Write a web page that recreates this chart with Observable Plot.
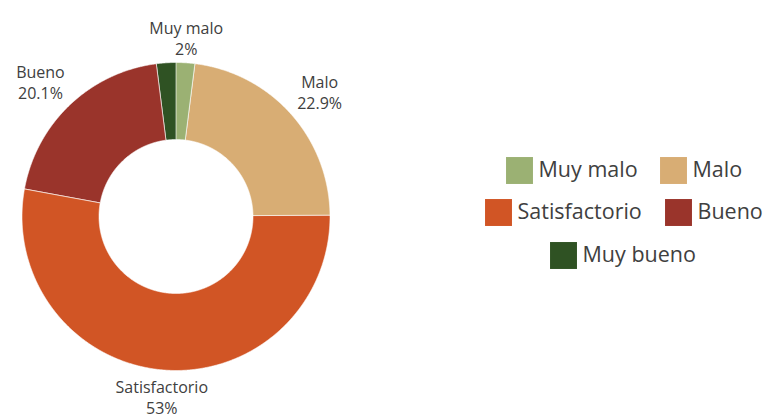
<!DOCTYPE html>
<html>
<head>
<meta charset="utf-8">
<script src="https://cdn.jsdelivr.net/npm/d3@7"></script>
<script src="https://cdn.jsdelivr.net/npm/@observablehq/plot@0.6"></script>
<style>
  html, body { margin: 0; padding: 0; background: #ffffff; }
  #chart { width: 766px; height: 416px; }
</style>
</head>
<body>
<div id="chart"></div>
<script>
// ---- data ----
const categories = ["Muy malo", "Malo", "Satisfactorio", "Bueno", "Muy bueno"];
const values = [2, 22.9, 53, 20.1, 2];
const showLabel = [true, true, true, true, false];
const colors = ["#9bb173", "#d8ad74", "#d15525", "#9a342b", "#2f5223"];

// ---- layout ----
const W = 766, H = 416;
const CX = 175.5, CY = 216, R = 154;
const INNER = 0.5;          // inner radius relative to outer
const LABEL_GAP = 162 / R;  // distance of label box edge from centre
const LABEL_FONT = 16, LABEL_LH = 1.31;
const LEGEND_FONT = 21.5;
const legendLayout = [       // swatch centres (pixels)
  {x: 519, y: 170}, {x: 673, y: 170},
  {x: 498, y: 212}, {x: 678, y: 212},
  {x: 563, y: 255}
];
const FONT = "'Open Sans', sans-serif";

// ---- geometry from data ----
const total = d3.sum(values);
const slices = [];
let acc = 0;
values.forEach((v, i) => {
  const a0 = acc / total * 2 * Math.PI;
  acc += v;
  const a1 = acc / total * 2 * Math.PI;
  slices.push({name: categories[i], value: v, a0, a1, i});
});

const ringPts = [];
for (const s of slices) {
  const n = Math.max(2, Math.ceil((s.a1 - s.a0) / 0.005));
  for (let k = 0; k <= n; k++) {
    const a = s.a0 + (s.a1 - s.a0) * k / n;
    ringPts.push({name: s.name, x: Math.sin(a), y: Math.cos(a)});
  }
  for (let k = n; k >= 0; k--) {
    const a = s.a0 + (s.a1 - s.a0) * k / n;
    ringPts.push({name: s.name, x: INNER * Math.sin(a), y: INNER * Math.cos(a)});
  }
}

const ctx = document.createElement("canvas").getContext("2d");
ctx.font = `${LABEL_FONT}px ${FONT}`;
const labels = slices.filter(s => showLabel[s.i]).map(s => {
  const m = (s.a0 + s.a1) / 2;
  const sx = Math.sin(m), sy = Math.cos(m);
  const lines = [s.name, `${s.value}%`];
  const w = d3.max(lines, t => ctx.measureText(t).width) / R;
  const dx = Math.abs(sx) < 0.3 ? 0 : Math.sign(sx) * w / 2;
  return {
    x: LABEL_GAP * sx + dx,
    y: LABEL_GAP * sy,
    text: lines.join("\n"),
    anchor: Math.abs(sy) < 0.3 ? "middle" : (sy > 0 ? "bottom" : "top")
  };
});

const toX = px => (px - CX) / R;
const toY = py => (CY - py) / R;
const legend = categories.map((c, i) => ({name: c, x: toX(legendLayout[i].x), y: toY(legendLayout[i].y)}));

const labelMarks = ["bottom", "top", "middle"].map(a =>
  Plot.text(labels.filter(d => d.anchor === a), {x: "x", y: "y", text: "text", fontSize: LABEL_FONT, lineHeight: LABEL_LH, lineAnchor: a, fill: "#404040"})
);

const chart = Plot.plot({
  width: W,
  height: H,
  margin: 0,
  style: {fontFamily: FONT, background: "#ffffff", color: "#404040"},
  x: {domain: [-CX / R, (W - CX) / R], range: [0, W], axis: null},
  y: {domain: [-(H - CY) / R, CY / R], range: [H, 0], axis: null},
  color: {domain: categories, range: colors},
  marks: [
    Plot.line(ringPts, {x: "x", y: "y", z: "name", fill: "name", stroke: "#ffffff", strokeWidth: 0.6, curve: "linear-closed"}),
    ...labelMarks,
    Plot.dot(legend, {x: "x", y: "y", fill: "name", symbol: "square", r: 15.2}),
    Plot.text(legend, {x: "x", y: "y", text: "name", dx: 19, textAnchor: "start", fontSize: LEGEND_FONT, fill: "#404040"})
  ]
});
document.getElementById("chart").appendChild(chart);
</script>
</body>
</html>
